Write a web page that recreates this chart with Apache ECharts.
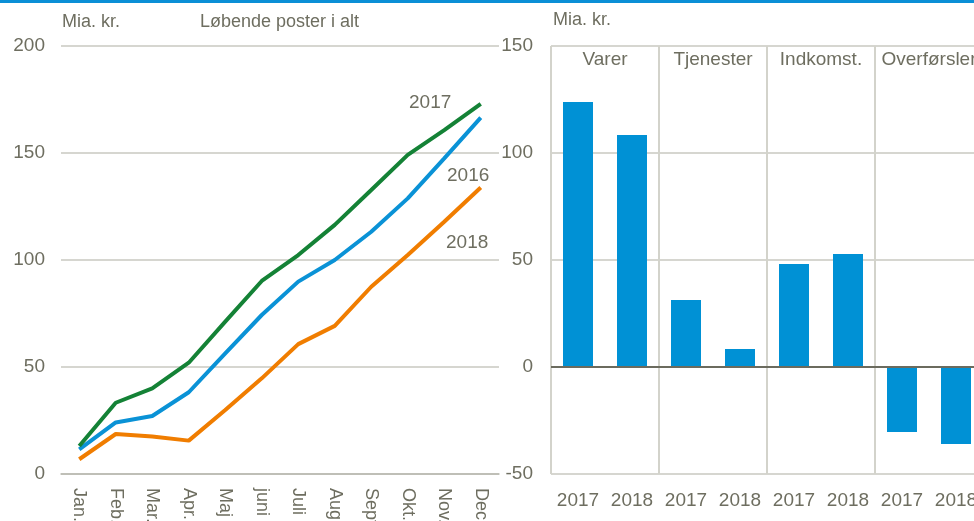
<!DOCTYPE html>
<html><head><meta charset="utf-8">
<script src="https://cdn.jsdelivr.net/npm/echarts@6/dist/echarts.min.js"></script>
<style>html,body{margin:0;padding:0;background:#fff}#c{width:974px;height:521px}</style>
</head><body><div id="c"></div>
<script>
const months = ['Jan.','Feb.','Mar.','Apr.','Maj','juni','Juli','Aug.','Sept.','Okt.','Nov.','Dec.'];
const s2016 = [11.5,24.1,27.1,38.2,56.4,74.3,89.9,100,113.2,128.8,147.5,166.5];
const s2017 = [13.1,33.3,40.0,52.0,71.2,90.2,102.3,116.4,132.7,149.1,160.7,172.9];
const s2018 = [6.9,18.7,17.5,15.6,29.9,44.7,60.7,69.2,87.5,102.3,117.9,133.9];
const leftTicks = [0,50,100,150,200];
const groups = ['Varer','Tjenester','Indkomst.','Overførsler'];
const barCats = ['2017','2018','2017','2018','2017','2018','2017','2018'];
const barVals = [123.8,108.4,31.3,8.4,48.1,52.8,-30.4,-36.0];
const rightTicks = [-50,0,50,100,150];

const FONT = '"Liberation Sans Narrow","Arial Narrow","Liberation Sans",sans-serif';
const TXT = '#6e6e60';
const GRID = '#c9c9c0';
const chart = echarts.init(document.getElementById('c'));
chart.setOption({
  animation:false,
  textStyle:{fontFamily:FONT},
  grid:[
    {left:61,right:475,top:46,bottom:47,outerBoundsMode:'none',containLabel:false},
    {left:551,right:-9,top:46,bottom:47,outerBoundsMode:'none',containLabel:false}
  ],
  xAxis:[
    {gridIndex:0,type:'category',data:months,boundaryGap:true,
     axisLine:{show:true,lineStyle:{color:'#b8b8ae',width:1.5}},axisTick:{show:false},
     axisLabel:{rotate:-90,color:TXT,fontSize:18,fontFamily:FONT,margin:14,interval:0,align:'left'}},
    {gridIndex:1,type:'category',data:barCats,boundaryGap:true,position:'bottom',
     axisLine:{show:false},axisTick:{show:false},
     axisLabel:{color:TXT,fontSize:19,fontFamily:FONT,margin:17,interval:0}},
    {gridIndex:1,type:'category',data:groups,boundaryGap:true,position:'top',
     axisLine:{show:false},axisTick:{show:false},
     splitLine:{show:true,lineStyle:{color:'#d3d3cb',width:2}},
     axisLabel:{inside:true,color:TXT,fontSize:19,fontFamily:FONT,margin:4,interval:0,verticalAlign:'top'}}
  ],
  yAxis:[
    {gridIndex:0,type:'value',min:leftTicks[0],max:leftTicks[leftTicks.length-1],interval:50,
     axisLine:{show:false},axisTick:{show:false},
     splitLine:{lineStyle:{color:GRID,width:1.5}},
     axisLabel:{color:TXT,fontSize:19,fontFamily:FONT,margin:16}},
    {gridIndex:1,type:'value',min:rightTicks[0],max:rightTicks[rightTicks.length-1],interval:50,
     axisLine:{show:false},axisTick:{show:false},
     splitLine:{lineStyle:{color:GRID,width:1.5}},
     axisLabel:{color:TXT,fontSize:19,fontFamily:FONT,margin:18}}
  ],
  series:[
    {type:'line',name:'2018',xAxisIndex:0,yAxisIndex:0,data:s2018,symbol:'none',lineStyle:{color:'#f07d00',width:4}},
    {type:'line',name:'2016',xAxisIndex:0,yAxisIndex:0,data:s2016,symbol:'none',lineStyle:{color:'#0a92d6',width:4}},
    {type:'line',name:'2017',xAxisIndex:0,yAxisIndex:0,data:s2017,symbol:'none',lineStyle:{color:'#148236',width:4}},
    {type:'bar',xAxisIndex:1,yAxisIndex:1,data:barVals,barWidth:30,
     itemStyle:{color:'#0091d5'},
     markLine:{silent:true,symbol:'none',label:{show:false},lineStyle:{color:'#6b6b5e',width:2,type:'solid'},data:[{yAxis:0}]}}
  ],
  graphic:[
    {type:'rect',left:0,top:0,shape:{width:974,height:3},style:{fill:'#0a8fd6'}},
    {type:'text',left:62,top:13,style:{text:'Mia. kr.',fill:TXT,font:'18px '+FONT}},
    {type:'text',left:200,top:13,style:{text:'Løbende poster i alt',fill:TXT,font:'18px '+FONT}},
    {type:'text',left:553,top:11,style:{text:'Mia. kr.',fill:TXT,font:'18px '+FONT}},
    {type:'text',left:409,top:93,style:{text:'2017',fill:TXT,font:'19px '+FONT}},
    {type:'text',left:447,top:166,style:{text:'2016',fill:TXT,font:'19px '+FONT}},
    {type:'text',left:446,top:233,style:{text:'2018',fill:TXT,font:'19px '+FONT}}
  ]
});
</script></body></html>
